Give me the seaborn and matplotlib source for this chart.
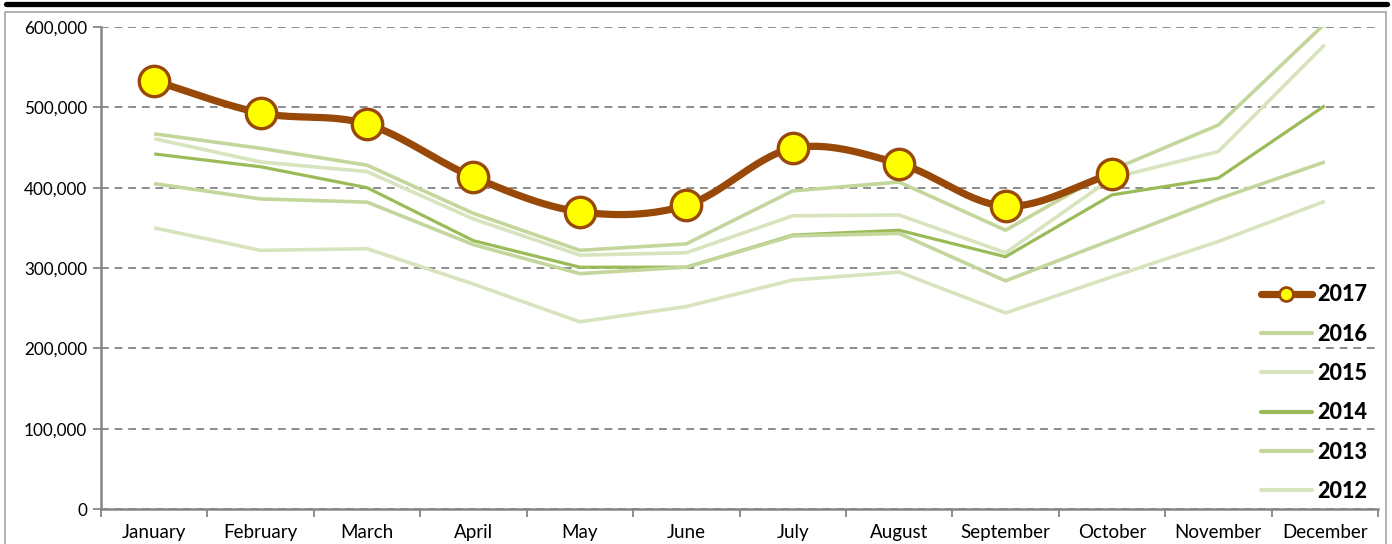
import numpy as np
import pandas as pd
import matplotlib
matplotlib.use("Agg")
import matplotlib.pyplot as plt
from matplotlib.lines import Line2D
from matplotlib.ticker import FuncFormatter, MultipleLocator, FixedLocator
import seaborn as sns

months = ["January", "February", "March", "April", "May", "June", "July",
          "August", "September", "October", "November", "December"]
y2017 = [533000, 493000, 479000, 413000, 370000, 378000, 449000, 430000, 377000, 417000]
y2016 = [467000, 449000, 428000, 368000, 322000, 330000, 396000, 407000, 347000, 422000, 478000, 604000]
y2015 = [461000, 432000, 420000, 361000, 316000, 319000, 365000, 366000, 319000, 412000, 445000, 578000]
y2014 = [442000, 426000, 400000, 334000, 301000, 301000, 341000, 347000, 314000, 391000, 412000, 502000]
y2013 = [405000, 386000, 382000, 329000, 293000, 301000, 340000, 343000, 284000, 335000, 386000, 432000]
y2012 = [350000, 322000, 324000, 280000, 233000, 252000, 285000, 295000, 244000, 289000, 333000, 383000]

sns.set_theme(style="white")
plt.rcParams['font.family'] = ['Lato', 'DejaVu Sans']

fig = plt.figure(figsize=(13.92, 5.44), dpi=100)
ax = fig.add_axes([101/1392, 1-509/544, (1378-101)/1392, (509-27)/544])

greens = [("2016", y2016, "#c3d69b", 2.6),
          ("2015", y2015, "#d7e4bd", 2.6),
          ("2014", y2014, "#9bbb59", 2.3),
          ("2013", y2013, "#c3d69b", 2.6),
          ("2012", y2012, "#d7e4bd", 2.6)]
x = np.arange(len(months))
for name, vals, col, lw in greens:
    df = pd.DataFrame({"x": x[:len(vals)], "v": vals})
    sns.lineplot(data=df, x="x", y="v", color=col, linewidth=lw, ax=ax,
                 legend=False, solid_capstyle="butt")

# smooth 2017 line (Catmull-Rom, as Excel's smoothed line)
p = np.array(y2017, dtype=float)
n = len(p)
pp = np.concatenate([[2*p[0]-p[1]], p, [2*p[-1]-p[-2]]])
xs, ys = [], []
for i in range(n-1):
    p0, p1, p2, p3 = pp[i], pp[i+1], pp[i+2], pp[i+3]
    t = np.linspace(0, 1, 30, endpoint=(i == n-2))
    yy = 0.5*((2*p1) + (-p0+p2)*t + (2*p0-5*p1+4*p2-p3)*t**2 + (-p0+3*p1-3*p2+p3)*t**3)
    xs.extend(i + t)
    ys.extend(yy)
sm = pd.DataFrame({"x": xs, "v": ys})
sns.lineplot(data=sm, x="x", y="v", color="#984807", linewidth=5.2, ax=ax,
             legend=False, zorder=5)
pts = pd.DataFrame({"x": x[:n], "v": y2017})
sns.scatterplot(data=pts, x="x", y="v", s=480, color="#ffff00", edgecolor="#984807",
                linewidth=2.4, ax=ax, zorder=6, legend=False)

ax.set_xlim(-0.5, 11.5)
ax.set_ylim(0, 600000)
ax.set_xlabel("")
ax.set_ylabel("")

ax.yaxis.set_major_locator(MultipleLocator(100000))
ax.yaxis.set_major_formatter(FuncFormatter(lambda v, _: f"{int(v):,}"))
ax.grid(axis="y", color="#8c8c8c", linestyle=(0, (4, 3)), linewidth=1.4)
ax.set_axisbelow(True)

ax.xaxis.set_major_locator(FixedLocator(x))
ax.set_xticklabels(months)
ax.xaxis.set_minor_locator(FixedLocator(np.arange(-0.5, 12, 1)))
ax.tick_params(axis="x", which="major", length=0, pad=11, labelsize=13.5, colors="black")
ax.tick_params(axis="x", which="minor", length=6, width=1.3, color="#868686", direction="out", bottom=True)
ax.tick_params(axis="y", which="major", length=6, width=1.3, color="#868686", direction="out",
               left=True, labelsize=12.3, pad=4)
for lab in ax.get_yticklabels() + ax.get_xticklabels():
    lab.set_color("black")

for s in ["top", "right"]:
    ax.spines[s].set_visible(False)
for s in ["left", "bottom"]:
    ax.spines[s].set_color("#868686")
    ax.spines[s].set_linewidth(1.8)

handles = [Line2D([0], [0], color="#984807", linewidth=5.2, marker="o", markersize=10,
                  markerfacecolor="#ffff00", markeredgecolor="#984807", markeredgewidth=2)]
labels = ["2017"]
for name, vals, col, lw in greens:
    handles.append(Line2D([0], [0], color=col, linewidth=3))
    labels.append(name)
leg = ax.legend(handles, labels, loc="lower right", bbox_to_anchor=(1.002, -0.012),
                frameon=False, handlelength=2.4, handletextpad=0.25, labelspacing=0.85,
                prop={"weight": "black", "size": 15.5}, borderaxespad=0.2)
for t in leg.get_texts():
    t.set_color("black")

# decorative top rule and outer frame
fig.add_artist(Line2D([6/1392, 1387/1392], [1-4/544, 1-4/544], color="black", linewidth=3.8,
                      transform=fig.transFigure))
fig.add_artist(plt.Rectangle((5/1392, -0.05), 1381/1392, 1.05-12/544, fill=False,
                             edgecolor="#a6a6a6", linewidth=1.2, transform=fig.transFigure))

fig.savefig("out.png", dpi=100)
